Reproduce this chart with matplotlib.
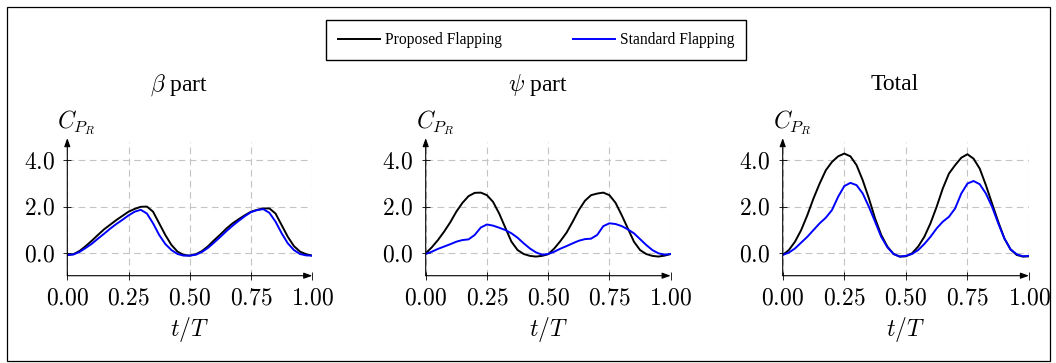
import matplotlib
matplotlib.use("Agg")
import matplotlib.pyplot as plt
from matplotlib.patches import Rectangle

plt.rcParams["font.family"] = ["Liberation Serif", "DejaVu Serif"]
plt.rcParams["mathtext.fontset"] = "cm"

t = [i * 0.025 for i in range(41)]

beta_proposed = [
    -0.07, -0.04, 0.10, 0.31, 0.54, 0.79, 1.03, 1.23, 1.43, 1.61, 1.79,
    1.91, 2.00, 2.01, 1.79, 1.29, 0.79, 0.36, 0.07, -0.07, -0.10,
    -0.04, 0.10, 0.31, 0.57, 0.81, 1.07, 1.29, 1.47, 1.64, 1.79,
    1.87, 1.93, 1.93, 1.71, 1.21, 0.71, 0.31, 0.07, -0.04, -0.10,
]
beta_standard = [
    -0.07, -0.05, 0.06, 0.23, 0.41, 0.63, 0.84, 1.06, 1.26, 1.44, 1.63,
    1.79, 1.87, 1.71, 1.29, 0.79, 0.40, 0.14, -0.03, -0.10, -0.10,
    -0.06, 0.06, 0.24, 0.47, 0.71, 0.96, 1.19, 1.40, 1.60, 1.77,
    1.86, 1.90, 1.74, 1.36, 0.86, 0.43, 0.14, -0.03, -0.09, -0.10,
]
psi_proposed = [
    0.00, 0.26, 0.57, 0.93, 1.33, 1.79, 2.17, 2.46, 2.60, 2.61, 2.50,
    2.21, 1.71, 1.10, 0.50, 0.14, -0.03, -0.11, -0.14, -0.11, -0.04,
    0.21, 0.53, 0.89, 1.36, 1.86, 2.26, 2.50, 2.57, 2.61, 2.50,
    2.17, 1.64, 1.07, 0.50, 0.14, -0.03, -0.11, -0.14, -0.10, -0.03,
]
psi_standard = [
    -0.03, 0.07, 0.19, 0.29, 0.39, 0.50, 0.57, 0.60, 0.79, 1.11, 1.24,
    1.19, 1.10, 1.00, 0.86, 0.67, 0.43, 0.21, 0.04, -0.06, -0.03,
    0.07, 0.20, 0.31, 0.43, 0.54, 0.61, 0.63, 0.79, 1.17, 1.29,
    1.26, 1.17, 1.03, 0.86, 0.61, 0.36, 0.14, 0.00, -0.06, -0.03,
]
total_proposed = [
    -0.07, 0.14, 0.50, 1.00, 1.64, 2.36, 3.00, 3.57, 3.93, 4.17, 4.29,
    4.17, 3.79, 3.14, 2.36, 1.50, 0.79, 0.29, -0.03, -0.14, -0.13,
    0.00, 0.29, 0.71, 1.29, 2.00, 2.79, 3.43, 3.79, 4.11, 4.26,
    4.07, 3.64, 2.93, 2.14, 1.36, 0.64, 0.17, -0.07, -0.14, -0.13,
]
total_standard = [
    -0.07, 0.03, 0.21, 0.46, 0.71, 1.00, 1.29, 1.53, 1.86, 2.43, 2.89,
    3.03, 2.93, 2.57, 2.00, 1.36, 0.71, 0.26, -0.03, -0.14, -0.11,
    -0.03, 0.14, 0.40, 0.71, 1.07, 1.36, 1.57, 1.93, 2.57, 3.00,
    3.11, 2.97, 2.57, 2.00, 1.29, 0.64, 0.17, -0.04, -0.13, -0.11,
]

titles = [r"$\beta$ part", r"$\psi$ part", "Total"]
series = [
    (beta_proposed, beta_standard),
    (psi_proposed, psi_standard),
    (total_proposed, total_standard),
]
xticks = [0.0, 0.25, 0.5, 0.75, 1.0]
yticks = [0.0, 2.0, 4.0]

W, H = 1056, 363
fig = plt.figure(figsize=(W / 100, H / 100), dpi=100)

lefts = [67.3, 425.7, 782.7]
widths = [245, 245, 246.3]
top_px, bot_px = 141.7, 275.7
title_x = [179, 538, 895]

for k in range(3):
    ax = fig.add_axes([lefts[k] / W, 1 - bot_px / H, widths[k] / W, (bot_px - top_px) / H])
    prop, std = series[k]
    l1, = ax.plot(t, prop, color="black", lw=1.4, label="Proposed Flapping")
    l2, = ax.plot(t, std, color="blue", lw=1.4, label="Standard Flapping")
    ax.set_xlim(0, 1)
    ax.set_ylim(-0.963, 4.8)
    ax.set_xticks(xticks)
    ax.set_yticks(yticks)
    ax.set_xticklabels([f"${v:.2f}$" for v in xticks])
    ax.set_yticklabels([f"${v:.1f}$" for v in yticks])
    ax.tick_params(labelsize=17, direction="inout", length=6, width=0.6)
    ax.tick_params(axis="x", pad=6)
    ax.tick_params(axis="y", pad=6)
    ax.grid(True, color="#c4c4c4", lw=0.8, linestyle=(0, (6, 4)))
    for s in ax.spines.values():
        s.set_visible(False)
    ax.set_facecolor("none")
    # axis lines with arrow heads
    ax.annotate("", xy=(1.0, 0), xytext=(0, 0), xycoords="axes fraction",
                arrowprops=dict(arrowstyle="-|>,head_length=0.5,head_width=0.18",
                                color="black", lw=0.8, shrinkA=0, shrinkB=0))
    ax.annotate("", xy=(0, 1.027), xytext=(0, 0), xycoords="axes fraction",
                arrowprops=dict(arrowstyle="-|>,head_length=0.5,head_width=0.18",
                                color="black", lw=0.8, shrinkA=0, shrinkB=0))
    ax.text(-10 / widths[k], (bot_px - 123) / (bot_px - top_px), r"$C_{P_R}$",
            transform=ax.transAxes, ha="left", va="center", fontsize=17)
    ax.text(0.5, -(330 - bot_px) / (bot_px - top_px), r"$t/T$",
            transform=ax.transAxes, ha="center", va="center", fontsize=17)
    fig.text(title_x[k] / W, 1 - 85 / H, titles[k], ha="center", va="center", fontsize=17)

fig.legend(handles=[l1, l2], loc="center", bbox_to_anchor=(536 / W, 1 - 40 / H),
           ncol=2, fontsize=11.2, frameon=True, fancybox=False, edgecolor="black",
           framealpha=1, handlelength=2.7, handletextpad=0.3, columnspacing=4.6,
           borderpad=0.75)

# outer frame
fig.patches.append(Rectangle((7 / W, 2 / H), 1043 / W, 354 / H, transform=fig.transFigure,
                             fill=False, edgecolor="black", lw=0.9))

fig.savefig("out.png", dpi=100)
